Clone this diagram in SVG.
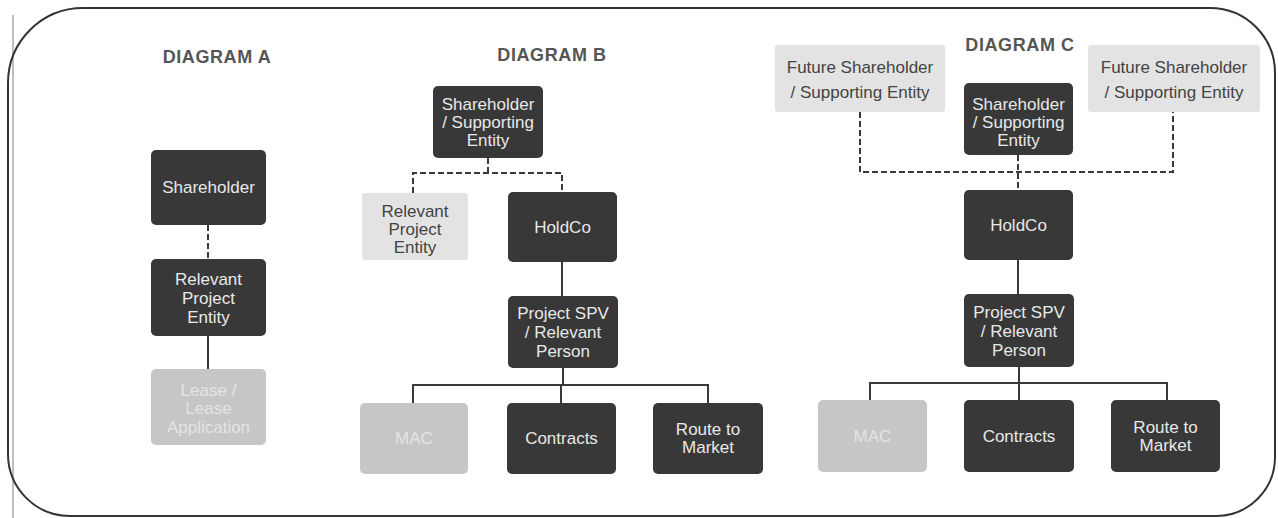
<svg xmlns="http://www.w3.org/2000/svg" width="1278" height="518" viewBox="0 0 1278 518">
<style>
.dark{fill:#383838;}
.light{fill:#e3e3e3;}
.pale{fill:#c6c6c6;}
.tw{font-family:"Liberation Sans",Arial,sans-serif;font-size:17px;fill:#e8e8e8;text-anchor:middle;}
.tp{font-family:"Liberation Sans",Arial,sans-serif;font-size:17px;fill:#e4e4e4;text-anchor:middle;}
.td{font-family:"Liberation Sans",Arial,sans-serif;font-size:17px;fill:#444;text-anchor:middle;}
.title{font-family:"Liberation Sans",Arial,sans-serif;font-size:18px;font-weight:bold;fill:#555;text-anchor:middle;letter-spacing:0.6px;}
.solid{fill:none;stroke:#3a3a3a;stroke-width:2;}
.dash{fill:none;stroke:#3a3a3a;stroke-width:2;stroke-dasharray:6 3;}
</style>
<rect width="1278" height="518" fill="#ffffff"/>
<line x1="13" y1="15" x2="13" y2="518" stroke="#a8a8a8" stroke-width="1.5"/>
<path d="M 83 8 H 1210 A 65 65 0 0 1 1275 73 V 457 A 59 59 0 0 1 1216 516 H 70 A 62 62 0 0 1 8 454 V 83 A 75 75 0 0 1 83 8 Z" fill="none" stroke="#333" stroke-width="2"/>

<text class="title" x="217" y="63">DIAGRAM A</text>
<text class="title" x="552" y="61">DIAGRAM B</text>
<text class="title" x="1020" y="51">DIAGRAM C</text>

<g id="connectors">
<path class="dash" d="M208 225 V259"/>
<path class="solid" d="M208 336 V369"/>
<path class="dash" d="M488 158 V173"/>
<path class="dash" d="M413 193 V173 H562 V192"/>
<path class="solid" d="M562 262 V296"/>
<path class="solid" d="M563 368 V385"/>
<path class="solid" d="M413 403 V385 H708 V403"/>
<path class="solid" d="M561 385 V403"/>
<path class="dash" d="M860 112 V172 H1173 V112"/>
<path class="dash" d="M1018 155 V190"/>
<path class="solid" d="M1018 260 V294"/>
<path class="solid" d="M1019 367 V383"/>
<path class="solid" d="M870 400 V383 H1167 V400"/>
<path class="solid" d="M1019 383 V400"/>
</g>

<g id="a-shareholder"><rect class="dark" x="151" y="150" width="115" height="75" rx="5"/><text class="tw" x="208.5" y="193">Shareholder</text></g>
<g id="a-rpe"><rect class="dark" x="151" y="259" width="115" height="77" rx="5"/><text class="tw" x="208.5" y="285">Relevant</text><text class="tw" x="208.5" y="304">Project</text><text class="tw" x="208.5" y="323">Entity</text></g>
<g id="a-lease"><rect class="pale" x="151" y="369" width="115" height="76" rx="5"/><text class="tp" x="208.5" y="396">Lease /</text><text class="tp" x="208.5" y="414">Lease</text><text class="tp" x="208.5" y="433">Application</text></g>

<g id="b-shareholder"><rect class="dark" x="433" y="86" width="110" height="72" rx="5"/><text class="tw" x="488" y="110">Shareholder</text><text class="tw" x="488" y="128">/ Supporting</text><text class="tw" x="488" y="146">Entity</text></g>
<g id="b-rpe"><rect class="light" x="362" y="193" width="106" height="67" rx="3"/><text class="td" x="415" y="217">Relevant</text><text class="td" x="415" y="235">Project</text><text class="td" x="415" y="253">Entity</text></g>
<g id="b-holdco"><rect class="dark" x="508" y="192" width="109" height="70" rx="5"/><text class="tw" x="562.5" y="233">HoldCo</text></g>
<g id="b-spv"><rect class="dark" x="508" y="296" width="110" height="72" rx="5"/><text class="tw" x="563" y="319">Project SPV</text><text class="tw" x="563" y="338">/ Relevant</text><text class="tw" x="563" y="357">Person</text></g>
<g id="b-mac"><rect class="pale" x="360" y="403" width="108" height="71" rx="5"/><text class="tp" x="414" y="444">MAC</text></g>
<g id="b-contracts"><rect class="dark" x="507" y="403" width="109" height="71" rx="5"/><text class="tw" x="561.5" y="444">Contracts</text></g>
<g id="b-route"><rect class="dark" x="653" y="403" width="110" height="71" rx="5"/><text class="tw" x="708" y="435">Route to</text><text class="tw" x="708" y="453">Market</text></g>

<g id="c-future-left"><rect class="light" x="775" y="45" width="170" height="67" rx="3"/><text class="td" x="860" y="73">Future Shareholder</text><text class="td" x="860" y="98">/ Supporting Entity</text></g>
<g id="c-future-right"><rect class="light" x="1088" y="45" width="172" height="67" rx="3"/><text class="td" x="1174" y="73">Future Shareholder</text><text class="td" x="1174" y="98">/ Supporting Entity</text></g>
<g id="c-shareholder"><rect class="dark" x="964" y="83" width="109" height="72" rx="5"/><text class="tw" x="1018.5" y="110">Shareholder</text><text class="tw" x="1018.5" y="128">/ Supporting</text><text class="tw" x="1018.5" y="146">Entity</text></g>
<g id="c-holdco"><rect class="dark" x="964" y="190" width="109" height="70" rx="5"/><text class="tw" x="1018.5" y="231">HoldCo</text></g>
<g id="c-spv"><rect class="dark" x="964" y="294" width="110" height="73" rx="5"/><text class="tw" x="1019" y="318">Project SPV</text><text class="tw" x="1019" y="337">/ Relevant</text><text class="tw" x="1019" y="356">Person</text></g>
<g id="c-mac"><rect class="pale" x="818" y="400" width="109" height="72" rx="5"/><text class="tp" x="872.5" y="442">MAC</text></g>
<g id="c-contracts"><rect class="dark" x="964" y="400" width="110" height="72" rx="5"/><text class="tw" x="1019" y="442">Contracts</text></g>
<g id="c-route"><rect class="dark" x="1111" y="400" width="109" height="72" rx="5"/><text class="tw" x="1165.5" y="433">Route to</text><text class="tw" x="1165.5" y="451">Market</text></g>
</svg>
